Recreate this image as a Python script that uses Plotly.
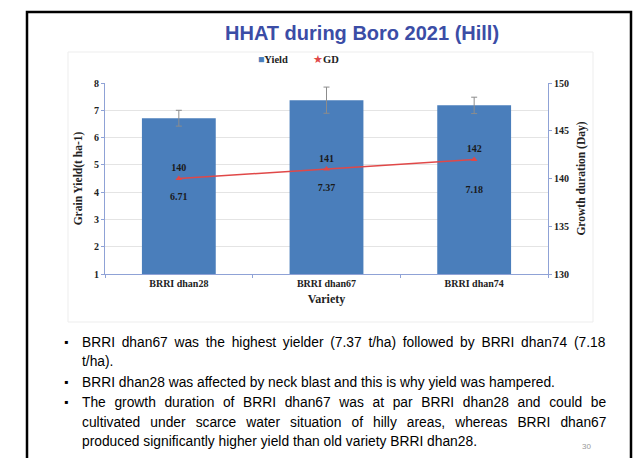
import plotly.graph_objects as go

# ---------- data ----------
varieties = ['BRRI dhan28', 'BRRI dhan67', 'BRRI dhan74']
grain_yield = [6.71, 7.37, 7.18]
yield_err = [0.29, 0.48, 0.30]
growth_days = [140, 141, 142]

bullet_lines = [
    ('BRRI dhan67 was the highest yielder (7.37 t/ha) followed by BRRI dhan74 (7.18', True),
    ('t/ha).', False),
    ('BRRI dhan28 was affected by neck blast and this is why yield was hampered.', True),
    ('The growth duration of BRRI dhan67 was at par BRRI dhan28 and could be', True),
    ('cultivated under scarce water situation of hilly areas, whereas BRRI dhan67', False),
    ('produced significantly higher yield than old variety BRRI dhan28.', False),
]
bullet_y = [342, 361, 382, 402, 422, 441]
word_gaps = [2.9, 0, 0, 4.8, 6.2, 0]

SERIF = 'Liberation Serif'
SANS = 'Liberation Sans'
W, H = 637, 458
AXIS_BLUE = '#8FA2D6'

fig = go.Figure()

# bars start from the axis minimum (1)
fig.add_trace(go.Bar(
    x=varieties, y=[v - 1 for v in grain_yield], base=1, name='Yield',
    marker=dict(color='#4A7EBB', line=dict(width=0)),
    error_y=dict(type='data', array=yield_err, color='#8C8C8C', thickness=1, width=3),
    text=[f'<b>{v:.2f}</b>' for v in grain_yield],
    textposition='inside', insidetextanchor='middle',
    textfont=dict(family=SERIF, size=10, color='#1A1A1A'),
))

fig.add_trace(go.Scatter(
    x=varieties, y=growth_days, name='GD', yaxis='y2',
    mode='lines+markers+text',
    line=dict(color='#E04848', width=1.5),
    marker=dict(symbol='triangle-up', size=6, color='#E04848'),
    text=[f'<b>{v}</b>' for v in growth_days],
    textposition='top center',
    textfont=dict(family=SERIF, size=10, color='#1A1A1A'),
))

fig.update_layout(
    width=W, height=H,
    margin=dict(l=0, r=0, t=0, b=0),
    paper_bgcolor='white', plot_bgcolor='white',
    showlegend=False,
    bargap=0.5,
    xaxis=dict(
        domain=[105 / W, 548 / W], automargin=False,
        showline=True, linecolor=AXIS_BLUE, linewidth=1,
        ticks='outside', tickson='boundaries', ticklen=3, tickcolor=AXIS_BLUE,
        tickfont=dict(family=SERIF, size=10, color='#222'),
        tickprefix='<b>', ticksuffix='</b>',
        title=dict(text='<b>Variety</b>', font=dict(family=SERIF, size=12, color='#222'), standoff=6),
    ),
    yaxis=dict(
        domain=[1 - 274 / H, 1 - 83 / H], automargin=False,
        range=[1, 8], dtick=1, tick0=1,
        showline=True, linecolor=AXIS_BLUE, linewidth=1,
        ticks='outside', ticklen=3, tickcolor=AXIS_BLUE,
        showgrid=True, gridcolor='#E4E4E4', zeroline=False,
        tickfont=dict(family=SERIF, size=10, color='#222'),
        tickprefix='<b>', ticksuffix='</b>',
        title=dict(text='<b>Grain Yield(t ha-1)</b>', font=dict(family=SERIF, size=11.5, color='#222'), standoff=8),
    ),
    yaxis2=dict(
        overlaying='y', side='right', anchor='x', automargin=False,
        range=[130, 150], dtick=5,
        showline=True, linecolor=AXIS_BLUE, linewidth=1,
        ticks='outside', ticklen=3, tickcolor=AXIS_BLUE,
        showgrid=False, zeroline=False,
        tickfont=dict(family=SERIF, size=10, color='#222'),
        tickprefix='<b>', ticksuffix='</b>',
        title=dict(text='<b>Growth duration (Day)</b>', font=dict(family=SERIF, size=11.5, color='#222'), standoff=8),
    ),
)

# slide frame and chart box
fig.add_shape(type='rect', xref='paper', yref='paper',
              x0=27 / W, x1=631 / W, y0=-0.02, y1=1 - 12 / H,
              line=dict(color='black', width=2.5), fillcolor='rgba(0,0,0,0)', layer='below')
fig.add_shape(type='rect', xref='paper', yref='paper',
              x0=68 / W, x1=593 / W, y0=1 - 322 / H, y1=1 - 52 / H,
              line=dict(color='#EDEDED', width=1), fillcolor='rgba(0,0,0,0)', layer='below')


def note(text, x, y, size, family=SANS, color='black', xanchor='left'):
    fig.add_annotation(text=text, xref='paper', yref='paper',
                       x=x / W, y=1 - y / H, xanchor=xanchor, yanchor='middle',
                       showarrow=False, font=dict(family=family, size=size, color=color))


# title
note('<b>HHAT during Boro 2021 (Hill)</b>', 362, 33, 20, color='#3B4DA6', xanchor='center')

# legend
note('<span style="color:#4A7EBB">■</span><b>Yield</b>', 256, 60, 10.5, family=SERIF, color='#222')
note('<span style="color:#E04848">★</span><b>GD</b>', 311, 60, 10.5, family=SERIF, color='#222')

# bullet text (justified lines get extra word spacing)
for (line, has_bullet), yy, gap in zip(bullet_lines, bullet_y, word_gaps):
    txt = f'<span style="word-spacing:{gap}px">{line}</span>' if gap else line
    note(txt, 80, yy, 13.8)
    if has_bullet:
        note('▪', 62, yy, 12)

note('30', 586, 446, 8, color='#999999', xanchor='center')

fig.write_html('out.html', config={'displayModeBar': False},
               post_script="document.body.style.margin='0';")
